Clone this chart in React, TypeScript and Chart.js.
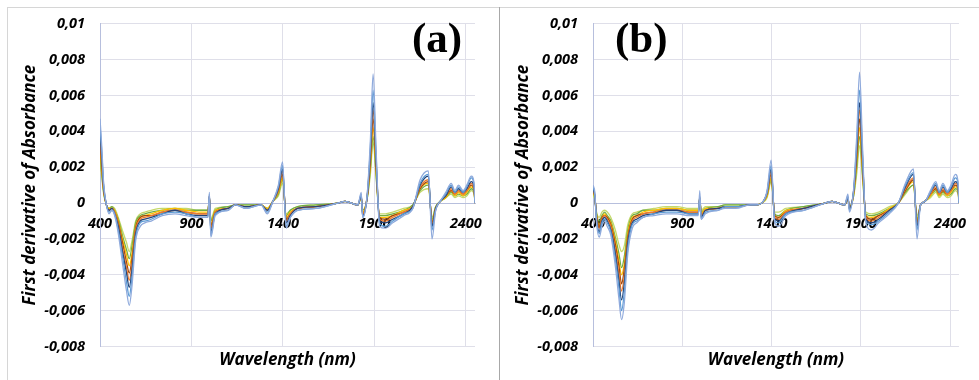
import React, { useEffect, useRef } from "react";
import { Chart, registerables } from "chart.js";

Chart.register(...registerables);

// Wavelength grid (nm), shared by every spectrum
const WAVELENGTHS = [
  400, 410, 420, 435, 450, 465, 480, 500, 525, 545,
  560, 575, 595, 620, 645, 680, 740, 810, 870, 940,
  990, 998, 1006, 1030, 1100, 1140, 1200, 1280, 1315, 1345,
  1375, 1398, 1418, 1440, 1480, 1580, 1700, 1740, 1810, 1828,
  1836, 1860, 1878, 1893, 1910, 1928, 1960, 2000, 2060, 2110,
  2150, 2195, 2215, 2235, 2260, 2290, 2320, 2340, 2360, 2385,
  2405, 2430, 2445, 2450,
];

// Values are stored in units of 1e-4 (first derivative of absorbance)
const UNIT = 1e-4;

// Panel (a) spectra
const A1 = [47, 31, 11, -1, -6, -4, -7, -17, -35, -49, -57, -46, -21, -13, -11, -10, -7, -6, -7, -8, -8, 6, -19, -7, -4, -1, -3, -1, -6, 1, 10, 23, -14, -8, -4, -3, 0, 1, -1, 6, -8, 4, 35, 72, 28, -13, -14, -11, -7, -3, 13, 18, -20, -4, 1, 6, 11, 7, 10, 7, 10, 15, 11, 0];
const A2 = [44, 28, 10, -1, -5, -4, -6, -15, -31, -44, -52, -41, -19, -11, -10, -9, -6, -5, -6, -8, -8, 5, -18, -6, -4, -1, -3, -1, -5, 1, 9, 21, -13, -8, -4, -3, 0, 1, -1, 5, -8, 4, 31, 63, 25, -11, -13, -10, -6, -3, 11, 16, -15, -4, 1, 5, 10, 6, 9, 6, 9, 14, 10, 0];
const A3 = [39, 25, 9, -1, -4, -3, -6, -13, -28, -39, -47, -37, -17, -10, -9, -8, -6, -4, -6, -7, -7, 4, -16, -6, -3, -1, -2, -1, -4, 1, 8, 19, -11, -7, -3, -2, 0, 1, -1, 4, -7, 3, 28, 56, 22, -10, -11, -9, -6, -2, 10, 15, -13, -3, 1, 4, 9, 6, 8, 6, 8, 12, 9, 0];
const A4 = [36, 23, 8, -1, -4, -3, -5, -12, -26, -36, -43, -34, -15, -9, -8, -7, -5, -4, -5, -6, -6, 4, -14, -5, -3, -1, -2, -1, -4, 1, 7, 18, -10, -6, -3, -2, 0, 1, -1, 4, -6, 3, 26, 52, 21, -9, -10, -8, -5, -2, 9, 13, -12, -3, 1, 4, 8, 5, 7, 5, 7, 11, 8, 0];
const A5 = [33, 20, 7, -1, -4, -3, -5, -11, -23, -33, -39, -31, -14, -8, -7, -7, -5, -4, -5, -6, -6, 4, -13, -5, -3, -1, -2, -1, -4, 1, 7, 16, -9, -6, -3, -2, 0, 1, -1, 4, -6, 3, 23, 47, 19, -8, -9, -7, -5, -2, 8, 12, -11, -3, 1, 4, 7, 5, 7, 5, 7, 10, 7, 0];
const A6 = [29, 18, 7, -1, -3, -3, -4, -10, -21, -29, -35, -28, -13, -8, -7, -6, -4, -3, -4, -5, -5, 3, -12, -4, -3, -1, -2, -1, -3, 1, 6, 14, -8, -5, -3, -2, 0, 1, -1, 3, -5, 3, 21, 42, 17, -8, -8, -7, -4, -2, 8, 11, -10, -3, 1, 3, 7, 4, 6, 4, 6, 9, 7, 0];
const A7 = [26, 16, 6, -1, -3, -2, -4, -9, -19, -26, -31, -24, -11, -7, -6, -5, -4, -3, -4, -4, -4, 3, -10, -4, -2, -1, -1, -1, -3, 1, 5, 13, -7, -4, -2, -1, 0, 1, -1, 3, -4, 2, 19, 37, 15, -7, -7, -6, -4, -1, 7, 10, -9, -2, 1, 3, 6, 4, 5, 4, 5, 8, 6, 0];
const A8 = [22, 14, 5, -1, -3, -2, -3, -8, -16, -22, -27, -21, -10, -6, -5, -4, -3, -3, -3, -4, -4, 3, -9, -3, -2, -1, -1, -1, -3, 1, 4, 11, -6, -4, -2, -1, 0, 1, -1, 3, -4, 2, 16, 34, 13, -6, -6, -5, -3, -1, 6, 8, -8, -2, 1, 3, 5, 3, 4, 3, 4, 7, 5, 0];

// Panel (b) spectra
const B1 = [10, 6, -11, -19, -13, -10, -13, -18, -35, -53, -65, -56, -28, -14, -11, -8, -7, -6, -6, -7, -7, 7, -9, -6, -4, -3, -3, -1, -1, 0, 7, 24, -11, -13, -7, -4, 0, 1, -1, 5, -5, 8, 39, 73, 31, -11, -15, -11, -6, 0, 11, 19, -20, -1, 1, 7, 12, 7, 11, 7, 10, 16, 12, 0];
const B2 = [9, 5, -10, -17, -11, -9, -11, -16, -31, -47, -60, -50, -25, -12, -10, -8, -6, -5, -5, -6, -6, 4, -9, -5, -4, -2, -2, -1, -1, 0, 6, 21, -10, -11, -6, -4, 0, 1, -1, 4, -4, 7, 35, 63, 27, -10, -12, -10, -5, 0, 10, 17, -15, -1, 1, 6, 11, 6, 10, 6, 9, 14, 11, 0];
const B3 = [8, 4, -9, -16, -10, -8, -10, -15, -28, -43, -54, -45, -22, -11, -9, -7, -6, -4, -4, -6, -6, 3, -8, -4, -3, -2, -2, -1, -1, 0, 6, 19, -9, -10, -6, -3, 0, 1, -1, 3, -3, 7, 31, 56, 25, -9, -11, -9, -4, 0, 9, 16, -13, -1, 1, 6, 10, 6, 9, 6, 8, 12, 10, 0];
const B4 = [7, 4, -8, -14, -9, -7, -9, -13, -26, -39, -49, -41, -21, -10, -8, -6, -5, -4, -4, -5, -5, 3, -7, -4, -3, -2, -2, -1, -1, 0, 5, 18, -8, -9, -5, -3, 0, 1, -1, 3, -3, 6, 29, 52, 23, -8, -10, -8, -4, 0, 8, 14, -12, -1, 1, 5, 9, 5, 8, 5, 7, 11, 9, 0];
const B5 = [7, 4, -7, -13, -8, -7, -8, -12, -23, -35, -45, -37, -19, -9, -7, -6, -5, -4, -4, -5, -5, 3, -7, -4, -3, -2, -2, -1, -1, 0, 5, 16, -7, -8, -5, -3, 0, 1, -1, 3, -3, 6, 26, 47, 20, -7, -9, -7, -4, 0, 7, 13, -11, -1, 1, 5, 8, 5, 7, 5, 7, 10, 8, 0];
const B6 = [6, 3, -7, -12, -8, -6, -8, -11, -21, -32, -40, -34, -17, -8, -7, -5, -4, -3, -3, -4, -4, 3, -6, -3, -3, -2, -2, -1, -1, 0, 4, 14, -7, -8, -4, -3, 0, 1, -1, 3, -3, 5, 24, 42, 18, -7, -8, -7, -3, 0, 7, 12, -10, -1, 1, 4, 8, 4, 7, 4, 6, 9, 8, 0];
const B7 = [5, 3, -6, -10, -7, -5, -7, -10, -19, -28, -36, -30, -15, -7, -6, -4, -4, -3, -3, -4, -4, 2, -5, -3, -2, -1, -1, -1, -1, 0, 4, 13, -6, -7, -4, -2, 0, 1, -1, 2, -2, 4, 21, 37, 16, -6, -7, -6, -3, 0, 6, 10, -9, -1, 1, 4, 7, 4, 6, 4, 5, 8, 7, 0];
const B8 = [4, 2, -5, -8, -5, -4, -5, -8, -15, -23, -27, -24, -12, -6, -5, -4, -3, -2, -2, -3, -3, 2, -4, -2, -2, -1, -1, -1, -1, 0, 3, 12, -5, -5, -3, -2, 0, 1, -1, 2, -2, 4, 17, 32, 13, -5, -6, -5, -2, 0, 5, 10, -7, -1, 1, 3, 6, 3, 5, 3, 4, 7, 5, 0];

const SERIES_A = [A1, A2, A3, A4, A5, A6, A7, A8];
const SERIES_B = [B1, B2, B3, B4, B5, B6, B7, B8];

const X_TICKS = [400, 900, 1400, 1900, 2400];
const Y_TICKS = [-0.008, -0.006, -0.004, -0.002, 0, 0.002, 0.004, 0.006, 0.008, 0.01];

const LINE_COLORS = ["#8FAADC", "#5B9BD5", "#264478", "#ED7D31", "#9E480E", "#FFC000", "#70AD47", "#C5D96B"];
const GRID = "#dfdfe9";
const AXIS = "#b7bfdd";
const FONT_FAMILY = '"Open Sans", sans-serif';

const fmtY = (v: number) => {
  const r = Math.round(v * 1000) / 1000;
  if (r === 0) return "0";
  return String(r).replace(".", ",");
};

const panelLabelPlugin = {
  id: "panelLabel",
  afterDraw(chart: any, _args: any, opts: any) {
    const ctx = chart.ctx;
    ctx.save();
    ctx.font = 'bold 43px "Liberation Serif", "Times New Roman", serif';
    ctx.fillStyle = "#000";
    ctx.textAlign = "left";
    ctx.textBaseline = "alphabetic";
    ctx.fillText(opts.text, opts.x, opts.y);
    ctx.restore();
  },
};

type PanelProps = {
  series: number[][];
  tag: string;
  left: number;
  width: number;
  padRight: number;
  tagX: number;
};

function Panel({ series, tag, left, width, padRight, tagX }: PanelProps) {
  const ref = useRef<HTMLCanvasElement>(null);
  useEffect(() => {
    const tickFont = { family: FONT_FAMILY, size: 14.5, weight: "bold" as const, style: "italic" as const };
    const titleFont = { family: FONT_FAMILY, size: 17, weight: "bold" as const, style: "italic" as const };
    const chart = new Chart(ref.current!, {
      type: "line",
      data: {
        datasets: series.map((vals, i) => ({
          label: `S${i + 1}`,
          data: WAVELENGTHS.map((w, j) => ({ x: w, y: vals[j] * UNIT })),
          borderColor: LINE_COLORS[i],
          backgroundColor: LINE_COLORS[i],
          borderWidth: 1.3,
          pointRadius: 0,
          fill: false,
          cubicInterpolationMode: "monotone" as const,
        })),
      },
      options: {
        responsive: false,
        animation: false,
        events: [],
        layout: { padding: { top: 22, right: padRight, bottom: 7, left: 0 } },
        plugins: {
          legend: { display: false },
          tooltip: { enabled: false },
          title: {
            display: true,
            position: "bottom",
            fullSize: false,
            text: "Wavelength (nm)",
            color: "#000",
            font: titleFont,
            padding: { top: 3, bottom: 3 },
          },
          // @ts-ignore
          panelLabel: { text: tag, x: tagX, y: 52 },
        },
        scales: {
          x: {
            type: "linear",
            position: { y: 0 } as any,
            min: 400,
            max: 2450,
            afterBuildTicks: (s: any) => {
              s.ticks = X_TICKS.map((v) => ({ value: v }));
            },
            ticks: {
              color: "#000",
              font: tickFont,
              padding: 12.5,
              maxRotation: 0,
              autoSkip: false,
              callback: (v: any) => String(v),
            },
            grid: { color: GRID, drawTicks: false },
            border: { color: AXIS },
          },
          y: {
            type: "linear",
            min: -0.008,
            max: 0.01,
            afterBuildTicks: (s: any) => {
              s.ticks = Y_TICKS.map((v) => ({ value: v }));
            },
            afterFit: (s: any) => {
              s.width = 92;
            },
            ticks: {
              color: "#000",
              font: tickFont,
              padding: 15,
              callback: (v: any) => fmtY(Number(v)),
            },
            title: {
              display: true,
              text: "First derivative of Absorbance",
              color: "#000",
              font: titleFont,
              padding: { top: 12, bottom: 0 },
            },
            grid: { color: GRID, drawTicks: false },
            border: { color: AXIS },
          },
        },
      },
      plugins: [panelLabelPlugin as any],
    });
    return () => chart.destroy();
  }, []);
  return (
    <canvas
      ref={ref}
      width={width}
      height={380}
      style={{ position: "absolute", left, top: 0, width, height: 380 }}
    />
  );
}

export default function App() {
  return (
    <div
      style={{
        position: "fixed",
        left: 0,
        top: 0,
        width: 979,
        height: 380,
        background: "#fff",
        overflow: "hidden",
      }}
    >
      <div style={{ position: "absolute", left: 7, top: 7, width: 972, height: 1, background: "#d6d6d6" }} />
      <div style={{ position: "absolute", left: 7, top: 7, width: 1, height: 373, background: "#d6d6d6" }} />
      <div style={{ position: "absolute", left: 499, top: 7, width: 1, height: 373, background: "#a8a8a8" }} />
      <Panel series={SERIES_A} tag="(a)" left={8} width={491} padRight={24} tagX={404} />
      <Panel series={SERIES_B} tag="(b)" left={501} width={478} padRight={12} tagX={114} />
    </div>
  );
}
